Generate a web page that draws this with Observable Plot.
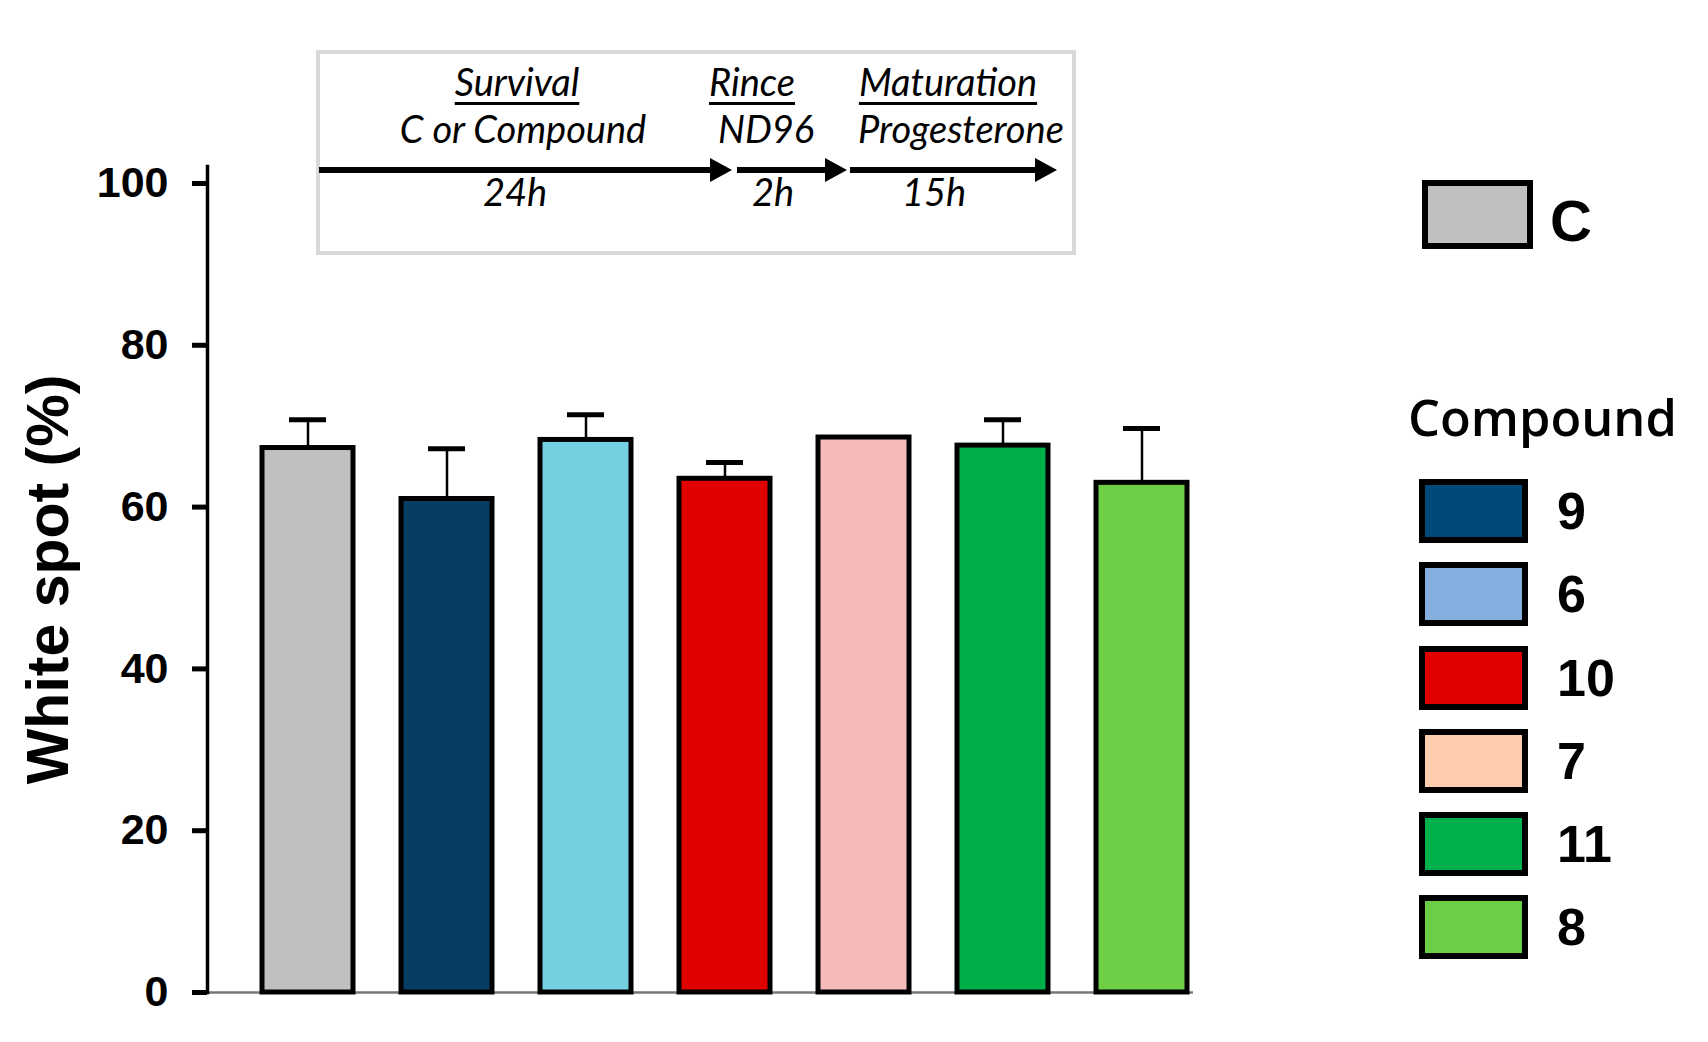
<!DOCTYPE html>
<html>
<head>
<meta charset="utf-8">
<script src="https://cdn.jsdelivr.net/npm/d3@7"></script>
<script src="https://cdn.jsdelivr.net/npm/@observablehq/plot@0.6"></script>
<style>
  html, body { margin: 0; padding: 0; background: #fff; }
  #wrap { position: relative; width: 1708px; height: 1042px; overflow: hidden; background: #fff; }
  #chart { position: absolute; left: 0; top: 0; }
  .abs { position: absolute; }
  .proto-box { position: absolute; left: 316px; top: 50px; width: 760px; height: 205px; box-sizing: border-box; border: 4px solid #D9D9D9; background: #fff; }
  .ptxt { position: absolute; font-family: Lato, "Open Sans", sans-serif; font-style: italic; font-size: 38px; line-height: 1; white-space: nowrap; transform: translateX(-50%); color: #000; }
  .ptitle { text-decoration: underline; text-decoration-thickness: 3px; text-underline-offset: 6px; }
  .aline { position: absolute; height: 6px; background: #000; }
  .ahead { position: absolute; width: 0; height: 0; border-left: 22px solid #000; border-top: 12px solid transparent; border-bottom: 12px solid transparent; }
  .legbox { box-sizing: border-box; border: 6px solid #000; }
  .legnum { font-family: "Liberation Sans", Arial, sans-serif; font-weight: bold; font-size: 52px; line-height: 1; color: #000; }
  .legtitle { position: absolute; left: 1408px; top: 392px; font-family: "Open Sans", sans-serif; font-weight: 600; font-size: 50.5px; line-height: 1; color: #000; white-space: nowrap; }
  #legrows { position: absolute; left: 1419px; top: 479px; display: flex; flex-direction: column; gap: 19.3px; }
  .legrow { display: flex; align-items: center; height: 64px; }
</style>
</head>
<body>
<div id="wrap">
  <div id="chart"></div>
</div>
<script>
// ---- data ----
const categories = ["C", "9", "6", "10", "7", "11", "8"];
const means = [67.3, 61.0, 68.3, 63.5, 68.6, 67.6, 63.0];
const sems = [3.5, 6.2, 3.1, 2.0, 0, 3.2, 6.7];
const barColors = ["#C0C0C0", "#073D62", "#74CFE0", "#E00000", "#F5BBBB", "#00AF47", "#6DCF45"];
const yTicks = [0, 20, 40, 60, 80, 100];
const yLabel = "White spot (%)";

const controlLabel = "C";
const controlColor = "#C0C0C0";
const legendTitle = "Compound";
const legendLabels = ["9", "6", "10", "7", "11", "8"];
const legendColors = ["#004A7A", "#84AEDD", "#E00000", "#FDCDAE", "#00B04A", "#6ACF45"];

const stepTitles = ["Survival", "Rince", "Maturation"];
const stepAgents = ["C or Compound", "ND96", "Progesterone"];
const stepDurations = ["24h", "2h", "15h"];

// ---- chart ----
const rows = categories.map((c, i) => ({category: c, mean: means[i], sem: sems[i]}));
const errRows = rows.filter(d => d.sem > 0);

const chart = Plot.plot({
  width: 1708,
  height: 1042,
  marginLeft: 207,
  marginRight: 466,
  marginTop: 166,
  marginBottom: 50,
  x: {domain: categories, paddingInner: 0.346, paddingOuter: 0.374, axis: null},
  y: {domain: [0, 102.1], axis: null},
  color: {domain: categories, range: barColors},
  style: {fontFamily: "'Liberation Sans', Arial, sans-serif", background: "white", color: "black"},
  marks: [
    Plot.ruleY([0], {stroke: "#777", strokeWidth: 2.5, insetRight: 49}),
    Plot.ruleX(errRows, {x: "category", y1: "mean", y2: d => d.mean + d.sem, stroke: "black", strokeWidth: 2.5}),
    Plot.tickY(errRows, {x: "category", y: d => d.mean + d.sem, stroke: "black", strokeWidth: 5, insetLeft: 27, insetRight: 27}),
    Plot.barY(rows, {x: "category", y: "mean", fill: "category", stroke: "black", strokeWidth: 5}),
    Plot.frame({anchor: "left", stroke: "black", strokeWidth: 3.5}),
    Plot.axisY({ticks: yTicks, label: null, tickSize: 15, tickPadding: 24, fontSize: 43, fontWeight: "bold", strokeWidth: 5}),
    Plot.axisY({ticks: [], label: yLabel, labelAnchor: "center", labelArrow: "none", labelOffset: 181, fontSize: 59, fontWeight: "bold"})
  ]
});
document.getElementById("chart").appendChild(chart);

// ---- protocol inset ----
const wrap = document.getElementById("wrap");
const box = document.createElement("div");
box.className = "proto-box";
wrap.appendChild(box);

const titleCx = [517, 752, 948];
const agentCx = [523, 766, 961];
const durCx = [515, 773, 934];
const segs = [[319, 732], [737, 847], [850, 1057]];
const fs = 38, base = 0.887 * fs;

function ptext(txt, cx, baseline, cls) {
  const s = document.createElement("div");
  s.className = "ptxt" + (cls ? " " + cls : "");
  s.textContent = txt;
  s.style.left = cx + "px";
  s.style.top = (baseline - base) + "px";
  wrap.appendChild(s);
}
stepTitles.forEach((t, i) => ptext(t, titleCx[i], 96, "ptitle"));
stepAgents.forEach((t, i) => ptext(t, agentCx[i], 143, ""));
stepDurations.forEach((t, i) => ptext(t, durCx[i], 206, ""));
segs.forEach(([a, b]) => {
  const l = document.createElement("div");
  l.className = "aline";
  l.style.left = a + "px";
  l.style.width = (b - a - 20) + "px";
  l.style.top = (170 - 3) + "px";
  wrap.appendChild(l);
  const h = document.createElement("div");
  h.className = "ahead";
  h.style.left = (b - 22) + "px";
  h.style.top = (170 - 12) + "px";
  wrap.appendChild(h);
});

// ---- legend ----
const cbox = document.createElement("div");
cbox.className = "abs legbox";
Object.assign(cbox.style, {left: "1422px", top: "180px", width: "111px", height: "69px", background: controlColor});
wrap.appendChild(cbox);
const ctext = document.createElement("div");
ctext.className = "abs";
ctext.textContent = controlLabel;
Object.assign(ctext.style, {left: "1550px", top: "192px", fontFamily: "'Liberation Sans', Arial, sans-serif", fontWeight: "bold", fontSize: "58px", lineHeight: "1"});
wrap.appendChild(ctext);

const lt = document.createElement("div");
lt.className = "legtitle";
lt.textContent = legendTitle;
wrap.appendChild(lt);

const lr = document.createElement("div");
lr.id = "legrows";
legendLabels.forEach((lab, i) => {
  const r = document.createElement("div");
  r.className = "legrow";
  const b = document.createElement("div");
  b.className = "legbox";
  Object.assign(b.style, {width: "109px", height: "64px", background: legendColors[i]});
  const t = document.createElement("div");
  t.className = "legnum";
  t.style.marginLeft = "29px";
  t.textContent = lab;
  r.appendChild(b);
  r.appendChild(t);
  lr.appendChild(r);
});
wrap.appendChild(lr);
</script>
</body>
</html>
